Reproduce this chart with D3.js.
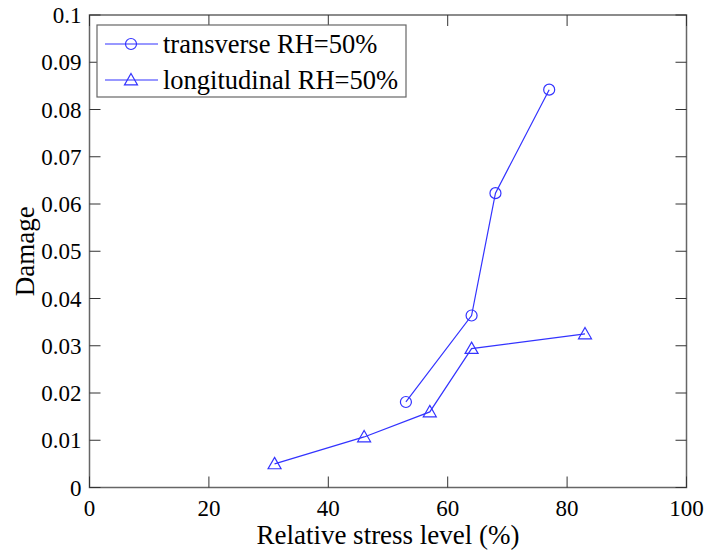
<!DOCTYPE html>
<html><head><meta charset="utf-8">
<script src="https://cdn.jsdelivr.net/npm/d3@7"></script>
<style>body{margin:0;background:#fff}svg{display:block}</style>
</head><body>
<svg id="c" width="708" height="553"></svg>
<script>
const xTicks = [0, 20, 40, 60, 80, 100];
const yTicks = [0, 0.01, 0.02, 0.03, 0.04, 0.05, 0.06, 0.07, 0.08, 0.09, 0.1];
const transX = [53, 64, 68, 77];
const transY = [0.0181, 0.0364, 0.0623, 0.0842];
const longX = [31, 46, 57, 64, 83];
const longY = [0.0050, 0.0107, 0.0160, 0.0294, 0.0325];
const seriesNames = ["transverse RH=50%", "longitudinal RH=50%"];

const FONT = "'Liberation Serif', 'Times New Roman', Times, serif";
const svg = d3.select("#c").attr("font-family", FONT);
const L = 89.5, R = 686.5, T = 15, B = 487.5;
const x = d3.scaleLinear().domain([0, 100]).range([L, R]);
const y = d3.scaleLinear().domain([0, 0.1]).range([B, T]);
const axisColor = "#666";
const tickColor = "#333";
const tk = 11;

svg.append("rect").attr("x", L).attr("y", T).attr("width", R - L).attr("height", B - T)
  .attr("fill", "none").attr("stroke", axisColor).attr("stroke-width", 1.5);

const fmt = d => d === 0 ? "0" : String(+d.toFixed(2));
const gx = svg.append("g");
xTicks.forEach(v => {
  gx.append("line").attr("x1", x(v)).attr("x2", x(v)).attr("y1", B).attr("y2", B - tk).attr("stroke", tickColor);
  gx.append("line").attr("x1", x(v)).attr("x2", x(v)).attr("y1", T).attr("y2", T + tk).attr("stroke", tickColor);
  gx.append("text").attr("x", x(v)).attr("y", B + 28).attr("text-anchor", "middle")
    .attr("font-family", FONT).attr("font-size", 23).text(v);
});
const gy = svg.append("g");
yTicks.forEach(v => {
  gy.append("line").attr("x1", L).attr("x2", L + tk).attr("y1", y(v)).attr("y2", y(v)).attr("stroke", tickColor);
  gy.append("line").attr("x1", R).attr("x2", R - tk).attr("y1", y(v)).attr("y2", y(v)).attr("stroke", tickColor);
  gy.append("text").attr("x", L - 8).attr("y", y(v) + 8).attr("text-anchor", "end")
    .attr("font-family", FONT).attr("font-size", 23).text(fmt(v));
});

svg.append("text").attr("x", (L + R) / 2).attr("y", 544).attr("text-anchor", "middle")
  .attr("font-family", FONT).attr("font-size", 27).text("Relative stress level (%)");
svg.append("text").attr("transform", `translate(34,${(T + B) / 2}) rotate(-90)`).attr("text-anchor", "middle")
  .attr("font-family", FONT).attr("font-size", 27).text("Damage");

const color = "#3333ff";
const line = d3.line().x(d => x(d[0])).y(d => y(d[1]));
const tData = transX.map((v, i) => [v, transY[i]]);
const lData = longX.map((v, i) => [v, longY[i]]);
const tri = s => `M0,${-s}L${s},${s * 0.75}L${-s},${s * 0.75}Z`;

function drawSeries(data, marker) {
  svg.append("path").attr("d", line(data)).attr("fill", "none").attr("stroke", color).attr("stroke-width", 1.2);
  data.forEach(d => {
    if (marker === "circle") svg.append("circle").attr("cx", x(d[0])).attr("cy", y(d[1])).attr("r", 5.5)
      .attr("fill", "none").attr("stroke", color).attr("stroke-width", 1.2);
    else svg.append("path").attr("transform", `translate(${x(d[0])},${y(d[1])})`).attr("d", tri(6.5))
      .attr("fill", "none").attr("stroke", color).attr("stroke-width", 1.2);
  });
}
drawSeries(tData, "circle");
drawSeries(lData, "tri");

const lg = svg.append("g");
lg.append("rect").attr("x", 97).attr("y", 25).attr("width", 309).attr("height", 72)
  .attr("fill", "#fff").attr("stroke", axisColor).attr("stroke-width", 1.2);
seriesNames.forEach((n, i) => {
  const cy = 44 + i * 36;
  lg.append("line").attr("x1", 105).attr("x2", 158).attr("y1", cy).attr("y2", cy).attr("stroke", color).attr("stroke-width", 1.2);
  if (i === 0) lg.append("circle").attr("cx", 131).attr("cy", cy).attr("r", 5.5).attr("fill", "none").attr("stroke", color).attr("stroke-width", 1.2);
  else lg.append("path").attr("transform", `translate(131,${cy})`).attr("d", tri(6.5)).attr("fill", "none").attr("stroke", color).attr("stroke-width", 1.2);
  lg.append("text").attr("x", 163).attr("y", cy + 9).attr("font-family", FONT).attr("font-size", 26.5).text(n);
});
</script>
</body></html>
